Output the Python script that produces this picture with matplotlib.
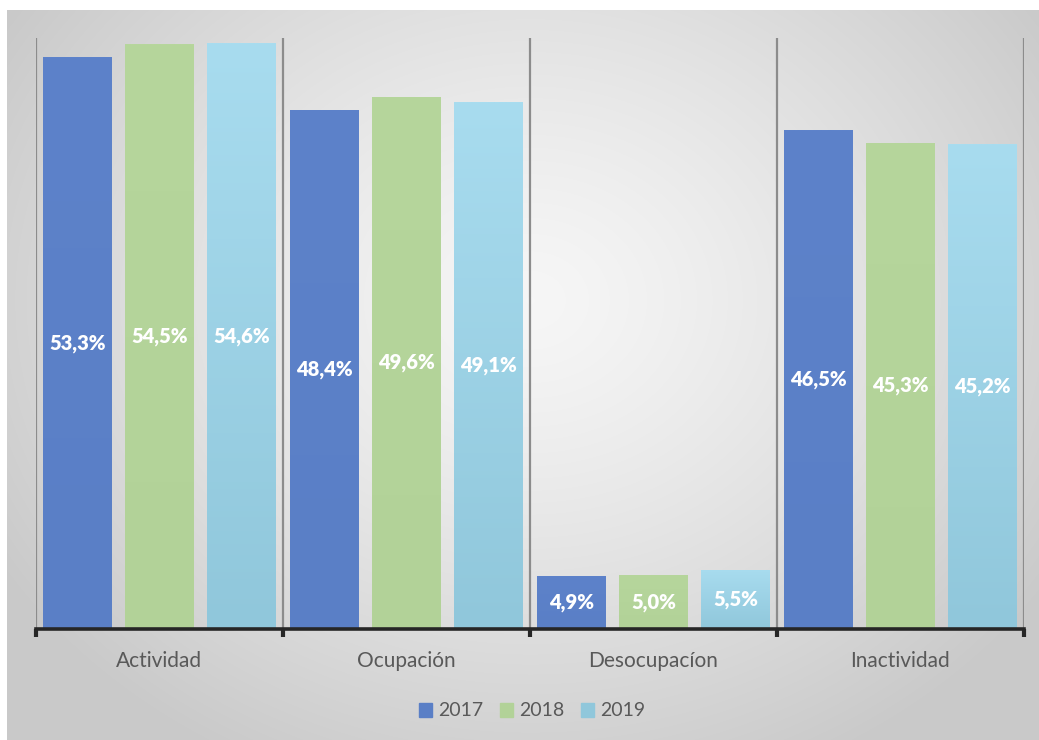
import numpy as np
import matplotlib.pyplot as plt
from matplotlib.colors import to_rgb

categories = ["Actividad", "Ocupación", "Desocupacíon", "Inactividad"]
years = ["2017", "2018", "2019"]
values_2017 = [53.3, 48.4, 4.9, 46.5]
values_2018 = [54.5, 49.6, 5.0, 45.3]
values_2019 = [54.6, 49.1, 5.5, 45.2]
series = [values_2017, values_2018, values_2019]

# (top colour, bottom colour) for each series
colors = [("#5D82CA", "#5A7FC6"), ("#B6D69C", "#B2D298"), ("#A8DCEF", "#90C7DB")]

plt.rcParams["font.family"] = ["Lato", "DejaVu Sans"]

W, H = 1039, 740
fig = plt.figure(figsize=(W / 100, H / 100), dpi=100)
fig.patch.set_facecolor("white")

# radial grey background of the chart area
bg = fig.add_axes([0, 0, 1, 1], zorder=-10)
bg.set_axis_off()
yy, xx = np.mgrid[0:H, 0:W]
cx, cy = 530, 300
r = np.sqrt(((xx - cx) / 620.0) ** 2 + ((yy - cy) / 520.0) ** 2)
r = np.clip(r, 0, 1)
c_in, c_out = 0.965, 0.79
img = c_in + (c_out - c_in) * r ** 1.3
rgb = np.dstack([img, img, img])
rgb[:10, :, :] = 1.0
rgb[:, :7, :] = 1.0
bg.imshow(rgb, extent=[0, W, H, 0], aspect="auto", interpolation="bilinear")
bg.set_xlim(0, W)
bg.set_ylim(H, 0)

left, right = 36 / W, 1024 / W
bottom, top = (H - 629) / H, (H - 38) / H
ax = fig.add_axes([left, bottom, right - left, top - bottom])
ax.patch.set_alpha(0)

x = np.arange(len(categories))
bar_w = 0.279
step = 0.332
ymax = 55.08

for i, (vals, (ctop, cbot)) in enumerate(zip(series, colors)):
    bars = ax.bar(x + (i - 1) * step, vals, width=bar_w, color=cbot,
                  label=years[i], zorder=2)
    grad = np.linspace(0, 1, 256)[:, None]
    t, b = np.array(to_rgb(ctop)), np.array(to_rgb(cbot))
    gimg = (b[None, None, :] * (1 - grad[..., None]) + t[None, None, :] * grad[..., None])
    for rect, v in zip(bars, vals):
        x0 = rect.get_x()
        im = ax.imshow(gimg, extent=[x0, x0 + bar_w, 0, v], origin="lower",
                       aspect="auto", zorder=2.5, interpolation="bilinear")
        im.set_clip_path(rect)
        ax.text(x0 + bar_w / 2, v / 2, f"{v:.1f}%".replace(".", ","),
                ha="center", va="center", color="white", fontsize=14.5,
                fontweight="heavy", zorder=4)

ax.set_xlim(-0.5, len(categories) - 0.5)
ax.set_ylim(0, ymax)

for b in np.arange(-0.5, len(categories), 1.0):
    ax.axvline(b, color="#8C8C8C", lw=1.6, zorder=1)

for s in ["top", "right", "left"]:
    ax.spines[s].set_visible(False)
ax.spines["bottom"].set_color("#262626")
ax.spines["bottom"].set_linewidth(2.6)
ax.spines["bottom"].set_zorder(5)
ax.set_yticks([])
ax.set_xticks(np.arange(-0.5, len(categories), 1.0))
ax.set_xticklabels([])
ax.tick_params(axis="x", which="major", length=6, width=3, color="#262626",
               direction="out")
ax.set_xticks(x, minor=True)
ax.set_xticklabels(categories, minor=True)
ax.tick_params(axis="x", which="minor", length=0, pad=16, labelsize=15,
               labelcolor="#595959")

handles = [plt.Rectangle((0, 0), 1, 1, color=c[1]) for c in colors]
fig.legend(handles, years, loc="center", bbox_to_anchor=(532 / W, (H - 711) / H),
           ncol=3, frameon=False, fontsize=14, handlelength=0.7,
           handleheight=0.7, handletextpad=0.3, columnspacing=0.85,
           labelcolor="#595959")

fig.savefig("out.png", dpi=100)
